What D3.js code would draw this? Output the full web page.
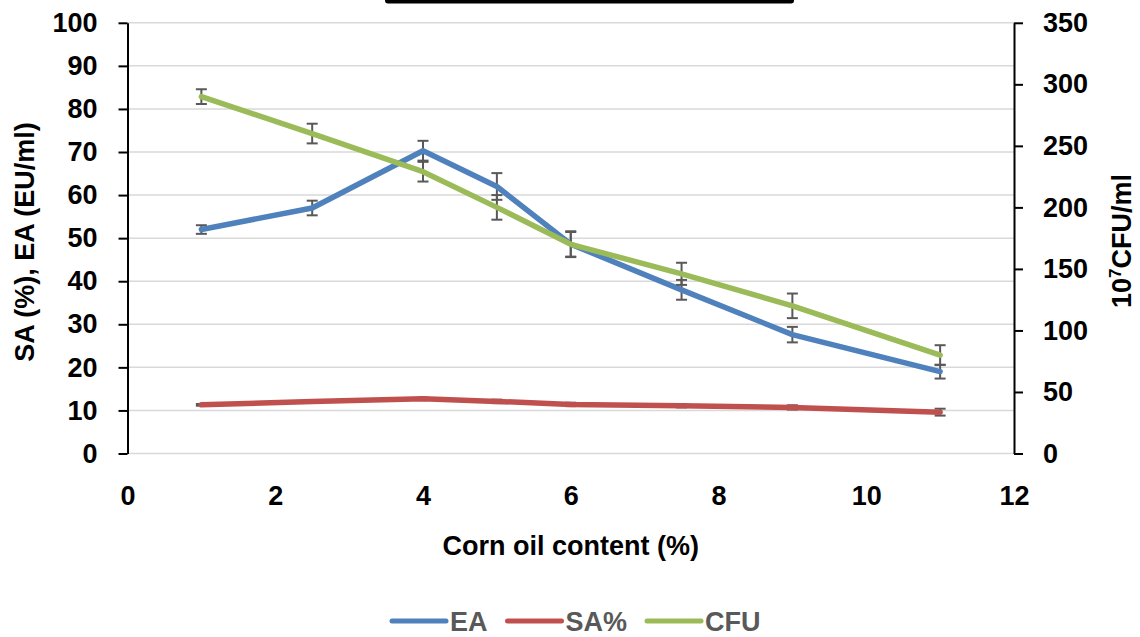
<!DOCTYPE html>
<html>
<head>
<meta charset="utf-8">
<script src="https://cdn.jsdelivr.net/npm/d3@7"></script>
<style>
  html, body { margin: 0; padding: 0; background: #fff; }
  svg text { font-family: "Liberation Sans", Arial, sans-serif; font-weight: bold; }
</style>
</head>
<body>
<div id="chart"></div>
<script>
// corn oil content (%)
const oilContent = [1, 2.5, 4, 5, 6, 7.5, 9, 11];

// EA (EU/ml) - left axis
const eaValues = [52, 57, 70.3, 62, 48.6, 38, 27.6, 19];
const eaErrors = [1, 1.7, 2.3, 3.1, 3, 2.3, 1.8, 1.6];

// SA (%) - left axis
const saValues = [11.3, 12.1, 12.7, 12.1, 11.4, 11.1, 10.7, 9.6];
const saErrors = [0.2, 0.3, 0.3, 0.4, 0.4, 0.4, 0.5, 0.8];

// CFU (10^7 CFU/ml) - right axis
const cfuValues = [290, 260, 229, 200, 170, 146, 120, 80];
const cfuErrors = [6, 8, 8, 10, 10, 9, 10, 8];

const xTicks = [0, 2, 4, 6, 8, 10, 12];
const leftTicks = [0, 10, 20, 30, 40, 50, 60, 70, 80, 90, 100];
const rightTicks = [0, 50, 100, 150, 200, 250, 300, 350];

const seriesNames = ["EA", "SA%", "CFU"];

const svgWidth = 1140;
const svgHeight = 637;
const plot = { left: 127.5, right: 1014, top: 22.8, bottom: 453.5 };

const svg = d3.select("#chart").append("svg")
  .attr("width", svgWidth)
  .attr("height", svgHeight);

// skala
const x = d3.scaleLinear().domain([0, 12]).range([plot.left, plot.right]);
const yLeft = d3.scaleLinear().domain([0, 100]).range([plot.bottom, plot.top]);
const yRight = d3.scaleLinear().domain([0, 350]).range([plot.bottom, plot.top]);

// kotak judul yang terpotong di atas
svg.append("rect")
  .attr("x", 385)
  .attr("y", -12)
  .attr("width", 409)
  .attr("height", 15.5)
  .attr("rx", 3)
  .attr("fill", "#000");

// garis grid
svg.append("g")
  .selectAll("line")
  .data(leftTicks)
  .enter().append("line")
  .attr("x1", plot.left)
  .attr("x2", plot.right)
  .attr("y1", d => yLeft(d))
  .attr("y2", d => yLeft(d))
  .attr("stroke", "#d9d9d9")
  .attr("stroke-width", 1.5);

// sumbu kiri
const leftAxis = svg.append("g")
  .attr("transform", `translate(${plot.left},0)`)
  .call(d3.axisLeft(yLeft).tickValues(leftTicks).tickSize(9).tickSizeOuter(0).tickPadding(21));
leftAxis.select(".domain").attr("stroke", "#000").attr("stroke-width", 2);
leftAxis.selectAll(".tick line").attr("stroke", "#000").attr("stroke-width", 2);
leftAxis.selectAll("text").attr("font-size", 27).attr("fill", "#000").attr("font-family", null);

// sumbu kanan
const rightAxis = svg.append("g")
  .attr("transform", `translate(${plot.right},0)`)
  .call(d3.axisRight(yRight).tickValues(rightTicks).tickSize(9).tickSizeOuter(0).tickPadding(20));
rightAxis.select(".domain").attr("stroke", "#000").attr("stroke-width", 2);
rightAxis.selectAll(".tick line").attr("stroke", "#000").attr("stroke-width", 2);
rightAxis.selectAll("text").attr("font-size", 27).attr("fill", "#000").attr("font-family", null);

// sumbu x (tanpa garis, hanya label)
const xAxis = svg.append("g")
  .attr("transform", `translate(0,${plot.bottom})`)
  .call(d3.axisBottom(x).tickValues(xTicks).tickSize(0).tickPadding(32));
xAxis.select(".domain").remove();
xAxis.selectAll("text").attr("font-size", 27).attr("fill", "#000").attr("font-family", null);

// judul sumbu
svg.append("text")
  .attr("x", (plot.left + plot.right) / 2)
  .attr("y", 555)
  .attr("text-anchor", "middle")
  .attr("font-size", 27)
  .text("Corn oil content (%)");

svg.append("text")
  .attr("transform", "translate(34,242) rotate(-90)")
  .attr("text-anchor", "middle")
  .attr("font-size", 27)
  .text("SA (%), EA (EU/ml)");

const rightTitle = svg.append("text")
  .attr("transform", "translate(1131,241) rotate(-90)")
  .attr("text-anchor", "middle")
  .attr("font-size", 27);
rightTitle.append("tspan").text("10");
rightTitle.append("tspan").attr("font-size", 17).attr("dy", -10).text("7");
rightTitle.append("tspan").attr("dy", 10).text("CFU/ml");

// seri data
const series = [
  { name: seriesNames[0], values: eaValues, errors: eaErrors, scale: yLeft, color: "#4f81bd" },
  { name: seriesNames[1], values: saValues, errors: saErrors, scale: yLeft, color: "#c0504d" },
  { name: seriesNames[2], values: cfuValues, errors: cfuErrors, scale: yRight, color: "#9bbb59" }
];

series.forEach(s => {
  const pts = oilContent.map((c, i) => ({ c, v: s.values[i], e: s.errors[i] }));
  const g = svg.append("g");

  // error bar
  const eb = g.selectAll(".err")
    .data(pts)
    .enter().append("g")
    .attr("class", "err")
    .attr("stroke", "#595959")
    .attr("stroke-width", 2);
  eb.append("line")
    .attr("x1", d => x(d.c)).attr("x2", d => x(d.c))
    .attr("y1", d => s.scale(d.v + d.e)).attr("y2", d => s.scale(d.v - d.e));
  eb.append("line")
    .attr("x1", d => x(d.c) - 5.5).attr("x2", d => x(d.c) + 5.5)
    .attr("y1", d => s.scale(d.v + d.e)).attr("y2", d => s.scale(d.v + d.e));
  eb.append("line")
    .attr("x1", d => x(d.c) - 5.5).attr("x2", d => x(d.c) + 5.5)
    .attr("y1", d => s.scale(d.v - d.e)).attr("y2", d => s.scale(d.v - d.e));

  g.append("path")
    .datum(pts)
    .attr("fill", "none")
    .attr("stroke", s.color)
    .attr("stroke-width", 5.5)
    .attr("stroke-linejoin", "round")
    .attr("stroke-linecap", "round")
    .attr("d", d3.line().x(d => x(d.c)).y(d => s.scale(d.v)));
});

// legenda
const legendX = [392, 507.5, 647];
const legend = svg.append("g")
  .selectAll("g")
  .data(series)
  .enter().append("g")
  .attr("transform", (d, i) => `translate(${legendX[i]},621)`);
legend.append("line")
  .attr("x1", 0).attr("x2", 54)
  .attr("stroke", d => d.color)
  .attr("stroke-width", 5)
  .attr("stroke-linecap", "round");
legend.append("text")
  .attr("x", 58)
  .attr("y", 10)
  .attr("font-size", 27)
  .attr("fill", "#595959")
  .text(d => d.name);
</script>
</body>
</html>
